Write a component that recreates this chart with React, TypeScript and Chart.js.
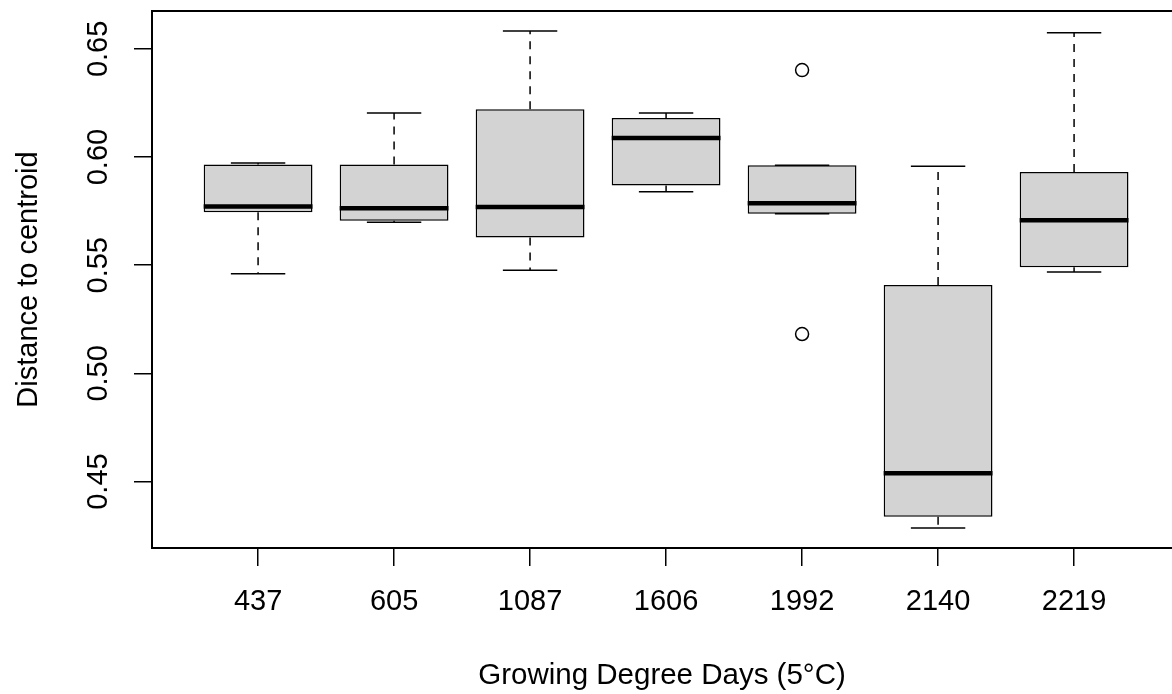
import React, { useEffect, useRef } from "react";
import { Chart, registerables } from "chart.js";

Chart.register(...registerables);

const categories = ["437", "605", "1087", "1606", "1992", "2140", "2219"];
const whiskerLow = [0.546, 0.5699, 0.5477, 0.584, 0.5738, 0.4285, 0.5469];
const q1 = [0.5745, 0.5705, 0.5628, 0.5869, 0.5738, 0.4337, 0.5491];
const median = [0.5771, 0.5763, 0.5769, 0.6088, 0.5786, 0.4538, 0.5708];
const q3 = [0.5966, 0.5966, 0.6221, 0.618, 0.5962, 0.5409, 0.5931];
const whiskerHigh = [0.5972, 0.6203, 0.6583, 0.6203, 0.5962, 0.5958, 0.6574];
const outlierCategory = [5, 5];
const outlierValue = [0.6402, 0.5182];
const yTickValues = [0.45, 0.5, 0.55, 0.6, 0.65];

const FONT = '"Liberation Sans", Arial, Helvetica, sans-serif';
const BOX_WIDTH = 0.8;
const STAPLE_WIDTH = 0.4;

const boxPlugin = {
  id: "boxExtras",
  beforeDatasetsDraw(chart: any) {
    const { ctx, scales } = chart;
    const x = scales.x;
    const y = scales.y;
    ctx.save();
    ctx.strokeStyle = "#000";
    ctx.lineWidth = 1.5;
    const seg = (x1: number, y1: number, x2: number, y2: number) => {
      ctx.beginPath();
      ctx.moveTo(x1, y1);
      ctx.lineTo(x2, y2);
      ctx.stroke();
    };
    categories.forEach((_, i) => {
      const cx = x.getPixelForValue(i + 1);
      const half = Math.abs(x.getPixelForValue(i + 1 + STAPLE_WIDTH / 2) - cx);
      const yq3 = y.getPixelForValue(q3[i]);
      const yq1 = y.getPixelForValue(q1[i]);
      const yHi = y.getPixelForValue(whiskerHigh[i]);
      const yLo = y.getPixelForValue(whiskerLow[i]);
      ctx.setLineDash([8, 7]);
      if (whiskerHigh[i] > q3[i]) seg(cx, yq3, cx, yHi);
      if (whiskerLow[i] < q1[i]) seg(cx, yq1, cx, yLo);
      ctx.setLineDash([]);
      seg(cx - half, yHi, cx + half, yHi);
      seg(cx - half, yLo, cx + half, yLo);
    });
    ctx.restore();
  },
  afterDatasetsDraw(chart: any) {
    const { ctx, scales, chartArea } = chart;
    const x = scales.x;
    const y = scales.y;
    ctx.save();
    ctx.strokeStyle = "#000";
    ctx.lineWidth = 4.5;
    ctx.lineCap = "butt";
    categories.forEach((_, i) => {
      const cx = x.getPixelForValue(i + 1);
      const half = Math.abs(x.getPixelForValue(i + 1 + BOX_WIDTH / 2) - cx);
      const ym = y.getPixelForValue(median[i]);
      ctx.beginPath();
      ctx.moveTo(cx - half, ym);
      ctx.lineTo(cx + half, ym);
      ctx.stroke();
    });
    // top frame line
    ctx.lineWidth = 2;
    ctx.beginPath();
    ctx.moveTo(chartArea.left - 1, chartArea.top);
    ctx.lineTo(chart.width, chartArea.top);
    ctx.stroke();
    // rotated y tick labels
    ctx.fillStyle = "#000";
    ctx.font = `29px ${FONT}`;
    ctx.textAlign = "center";
    ctx.textBaseline = "alphabetic";
    yTickValues.forEach((v) => {
      const py = y.getPixelForValue(v);
      ctx.save();
      ctx.translate(107, py);
      ctx.rotate(-Math.PI / 2);
      ctx.fillText(v.toFixed(2), 0, 0);
      ctx.restore();
    });
    ctx.restore();
  },
};

export default function App() {
  const ref = useRef<HTMLCanvasElement | null>(null);
  useEffect(() => {
    if (!ref.current) return;
    const chart = new Chart(ref.current, {
      type: "bar",
      data: {
        datasets: [
          {
            type: "scatter",
            data: outlierCategory.map((c, i) => ({ x: c, y: outlierValue[i] })),
            pointStyle: "circle",
            pointRadius: 6.5,
            pointBackgroundColor: "rgba(255,255,255,0)",
            pointBorderColor: "#000",
            pointBorderWidth: 1.5,
            showLine: false,
          } as any,
          {
            type: "bar",
            data: categories.map((_, i) => ({ x: i + 1, y: [q1[i], q3[i]] })) as any,
            backgroundColor: "#d3d3d3",
            borderColor: "#000",
            borderWidth: 1.5,
            borderSkipped: false,
            barPercentage: 1,
            categoryPercentage: BOX_WIDTH,
          } as any,
        ],
      },
      options: {
        responsive: false,
        devicePixelRatio: 1,
        animation: false,
        layout: { autoPadding: false, padding: { top: 11, left: 0, right: 0, bottom: 0 } },
        plugins: {
          legend: { display: false },
          tooltip: { enabled: false },
        },
        scales: {
          x: {
            type: "linear",
            offset: false,
            min: 0.22,
            max: 7.72,
            afterBuildTicks: (scale: any) => {
              scale.ticks = categories.map((_, i) => ({ value: i + 1 }));
            },
            afterFit: (scale: any) => {
              scale.height = 146;
              scale.paddingLeft = 0;
              scale.paddingRight = 0;
            },
            grid: {
              display: true,
              offset: false,
              drawOnChartArea: false,
              drawTicks: true,
              tickLength: 18,
              color: "#000",
              lineWidth: 1.5,
            },
            border: { display: true, color: "#000", width: 2 },
            ticks: {
              autoSkip: false,
              maxRotation: 0,
              minRotation: 0,
              padding: 19,
              color: "#000",
              font: { family: FONT, size: 29 },
              callback: (v: any) => categories[Number(v) - 1] ?? "",
            },
            title: {
              display: true,
              text: "Growing Degree Days (5°C)",
              color: "#000",
              font: { family: FONT, size: 29.5 },
              padding: { top: 0, bottom: 0 },
            },
          },
          y: {
            type: "linear",
            min: 0.4193,
            max: 0.6675,
            afterBuildTicks: (scale: any) => {
              scale.ticks = yTickValues.map((v) => ({ value: v }));
            },
            afterFit: (scale: any) => {
              scale.width = 152;
            },
            grid: {
              display: true,
              drawOnChartArea: false,
              drawTicks: true,
              tickLength: 18,
              color: "#000",
              lineWidth: 1.5,
            },
            border: { display: true, color: "#000", width: 2 },
            ticks: { display: false },
            title: {
              display: true,
              text: "Distance to centroid",
              color: "#000",
              font: { family: FONT, size: 29 },
              padding: { top: 12, bottom: 0 },
            },
          },
        },
      },
      plugins: [boxPlugin],
    });
    return () => chart.destroy();
  }, []);
  return (
    <div style={{ position: "fixed", left: 0, top: 0, width: 1172, height: 694, background: "#fff" }}>
      <canvas ref={ref} width={1172} height={694} style={{ width: 1172, height: 694, display: "block" }} />
    </div>
  );
}
